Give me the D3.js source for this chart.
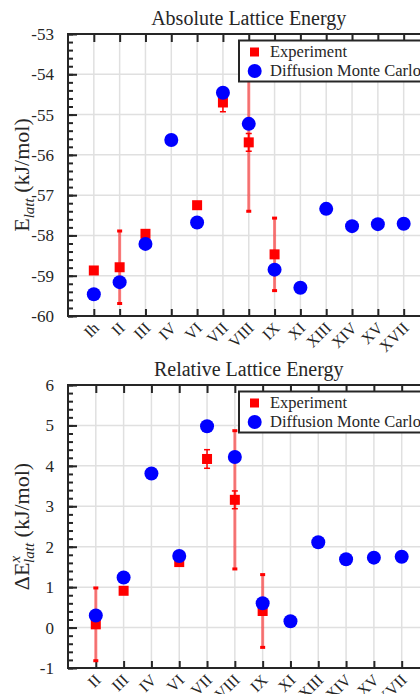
<!DOCTYPE html>
<html>
<head>
<meta charset="utf-8">
<script src="https://cdn.jsdelivr.net/npm/d3@7"></script>
<style>
  html, body { margin: 0; padding: 0; background: #fff; }
  svg { display: block; }
  text { font-family: "Liberation Serif", "Times New Roman", serif; fill: #262626; }
</style>
</head>
<body>
<svg id="chart" width="420" height="694"></svg>
<script>
// ---------- data ----------
const absCats = ["Ih","II","III","IV","VI","VII","VIII","IX","XI","XIII","XIV","XV","XVII"];
const absDmc  = [-59.46,-59.16,-58.21,-55.63,-57.68,-54.46,-55.23,-58.85,-59.30,-57.34,-57.77,-57.72,-57.71];
const absExpCats = ["Ih","II","III","VI","VII","VIII","IX"];
const absExp     = [-58.87,-58.79,-57.96,-57.25,-54.70,-55.69,-58.47];
const absWideErrCats = ["II","VIII","IX"];
const absWideErr     = [0.90,1.71,0.90];
const absSmallErrCats = ["VII","VIII"];
const absSmallErr     = [0.23,0.22];
const absYTicks = [-60,-59,-58,-57,-56,-55,-54,-53];

const relCats = ["II","III","IV","VI","VII","VIII","IX","XI","XIII","XIV","XV","XVII"];
const relDmc  = [0.30,1.24,3.81,1.77,4.98,4.22,0.60,0.155,2.11,1.69,1.73,1.75];
const relExpCats = ["II","III","VI","VII","VIII","IX"];
const relExp     = [0.08,0.91,1.62,4.17,3.16,0.41];
const relWideErrCats = ["II","VIII","IX"];
const relWideErr     = [0.90,1.71,0.90];
const relSmallErrCats = ["VII","VIII"];
const relSmallErr     = [0.23,0.22];
const relYTicks = [-1,0,1,2,3,4,5,6];

const legendLabels = ["Experiment","Diffusion Monte Carlo"];

// ---------- drawing ----------
const svg = d3.select("#chart");
const AX = "#262626", GRID = "#e0e0e0", RED = "#ff0000", BLUE = "#0000ff";

function panel(cfg) {
  const g = svg.append("g");
  const x = d3.scaleLinear().domain([0, cfg.cats.length + 1]).range([68, 429.5]);
  const y = d3.scaleLinear().domain(cfg.yDomain).range([cfg.bottom, cfg.top]);
  const xc = c => x(cfg.cats.indexOf(c) + 1);
  const left = x.range()[0], right = x.range()[1];

  // grid
  g.append("g").selectAll("line").data(cfg.cats).join("line")
    .attr("x1", c => xc(c)).attr("x2", c => xc(c))
    .attr("y1", cfg.top).attr("y2", cfg.bottom)
    .attr("stroke", GRID).attr("stroke-width", 1.5);
  g.append("g").selectAll("line").data(cfg.yTicks).join("line")
    .attr("x1", left).attr("x2", right)
    .attr("y1", d => y(d)).attr("y2", d => y(d))
    .attr("stroke", GRID).attr("stroke-width", 1.5);

  // axes with inward ticks
  const yMinor = d3.range(cfg.yDomain[0], cfg.yDomain[1] + 1e-9, 0.2).map(v => +v.toFixed(2));
  const yAxis = d3.axisLeft(y).tickValues(cfg.yTicks).tickSize(-9).tickPadding(14).tickFormat(d3.format("d"));
  const yAx = g.append("g").attr("transform", `translate(${left},0)`).call(yAxis);
  yAx.select(".domain").remove();
  yAx.selectAll("line").attr("stroke", AX).attr("stroke-width", 2);
  yAx.selectAll("text").attr("font-size", 17).attr("fill", AX)
     .text(d => (d < 0 ? "-" + Math.abs(d) : d));
  const yMin = d3.axisLeft(y).tickValues(yMinor).tickSize(-5).tickFormat("");
  const yMinAx = g.append("g").attr("transform", `translate(${left},0)`).call(yMin);
  yMinAx.select(".domain").remove();
  yMinAx.selectAll("line").attr("stroke", AX).attr("stroke-width", 2);

  const tickVals = cfg.cats.map((c, i) => i + 1);
  const xAx = g.append("g").attr("transform", `translate(0,${cfg.bottom})`)
    .call(d3.axisBottom(x).tickValues(tickVals).tickSize(-7).tickFormat(""));
  xAx.select(".domain").remove();
  xAx.selectAll("line").attr("stroke", AX).attr("stroke-width", 2);
  const xTop = g.append("g").attr("transform", `translate(0,${cfg.top})`)
    .call(d3.axisTop(x).tickValues(tickVals).tickSize(-8).tickFormat(""));
  xTop.select(".domain").remove();
  xTop.selectAll("line").attr("stroke", AX).attr("stroke-width", 2);

  // rotated category labels
  g.append("g").selectAll("text").data(cfg.cats).join("text")
    .attr("transform", c => `translate(${xc(c) + 6},${cfg.bottom + 13}) rotate(-45)`)
    .attr("text-anchor", "end").attr("font-size", 16).attr("fill", AX)
    .text(c => c);

  // box
  g.append("rect").attr("x", left).attr("y", cfg.top)
    .attr("width", right - left).attr("height", cfg.bottom - cfg.top)
    .attr("fill", "none").attr("stroke", AX).attr("stroke-width", 2);

  // wide (light) error bars
  const wide = cfg.wideCats.map((c, i) => ({ c, v: cfg.expVals[cfg.expCats.indexOf(c)], e: cfg.wideErr[i] }));
  const wg = g.append("g");
  wg.selectAll("line").data(wide).join("line")
    .attr("x1", d => xc(d.c)).attr("x2", d => xc(d.c))
    .attr("y1", d => y(d.v - d.e)).attr("y2", d => y(d.v + d.e))
    .attr("stroke", RED).attr("stroke-opacity", 0.5).attr("stroke-width", 3);
  wide.forEach(d => {
    [d.v - d.e, d.v + d.e].forEach(v => {
      wg.append("rect").attr("x", xc(d.c) - 2.5).attr("y", y(v) - 1.5)
        .attr("width", 5).attr("height", 3).attr("fill", RED);
    });
  });

  // small error bars
  const small = cfg.smallCats.map((c, i) => ({ c, v: cfg.expVals[cfg.expCats.indexOf(c)], e: cfg.smallErr[i] }));
  const sg = g.append("g");
  small.forEach(d => {
    const cx = xc(d.c);
    sg.append("line").attr("x1", cx).attr("x2", cx).attr("y1", y(d.v - d.e)).attr("y2", y(d.v + d.e))
      .attr("stroke", RED).attr("stroke-width", 1.5);
    [d.v - d.e, d.v + d.e].forEach(v => {
      sg.append("line").attr("x1", cx - 3).attr("x2", cx + 3).attr("y1", y(v)).attr("y2", y(v))
        .attr("stroke", RED).attr("stroke-width", 1.5);
    });
  });

  // experiment squares
  g.append("g").selectAll("rect").data(cfg.expCats).join("rect")
    .attr("x", (c) => xc(c) - 5)
    .attr("y", (c, i) => y(cfg.expVals[i]) - 5)
    .attr("width", 10).attr("height", 10).attr("fill", RED);

  // DMC circles
  g.append("g").selectAll("circle").data(cfg.cats).join("circle")
    .attr("cx", c => xc(c)).attr("cy", (c, i) => y(cfg.dmc[i]))
    .attr("r", 7).attr("fill", BLUE);

  // legend
  const lg = g.append("g").attr("transform", `translate(239,${cfg.top + 6.5})`);
  lg.append("rect").attr("x", 0).attr("y", 0).attr("width", 220).attr("height", 41)
    .attr("fill", "#fff").attr("stroke", AX).attr("stroke-width", 2);
  lg.append("rect").attr("x", 11).attr("y", 7).attr("width", 9).attr("height", 9).attr("fill", RED);
  lg.append("circle").attr("cx", 15.7).attr("cy", 30.5).attr("r", 7).attr("fill", BLUE);
  lg.append("text").attr("x", 31).attr("y", 16.5).attr("font-size", 16.5).text(legendLabels[0]);
  lg.append("text").attr("x", 31).attr("y", 35.5).attr("font-size", 16.5).text(legendLabels[1]);

  // title
  g.append("text").attr("x", (left + right) / 2).attr("y", cfg.top - 9)
    .attr("text-anchor", "middle").attr("font-size", 20).text(cfg.title);

  // y label
  const yl = g.append("text")
    .attr("transform", `translate(29,${(cfg.top + cfg.bottom) / 2}) rotate(-90)`)
    .attr("text-anchor", "middle").attr("font-size", 22);
  cfg.ylabel(yl);
}

panel({
  cats: absCats, dmc: absDmc, expCats: absExpCats, expVals: absExp,
  wideCats: absWideErrCats, wideErr: absWideErr, smallCats: absSmallErrCats, smallErr: absSmallErr,
  yDomain: [-60, -53], yTicks: absYTicks, top: 34, bottom: 316,
  title: "Absolute Lattice Energy",
  ylabel: t => {
    t.append("tspan").text("E");
    t.append("tspan").attr("font-style", "italic").attr("font-size", 15).attr("dy", 5).text("latt");
    t.append("tspan").attr("dy", -5).text(" (kJ/mol)");
  }
});

panel({
  cats: relCats, dmc: relDmc, expCats: relExpCats, expVals: relExp,
  wideCats: relWideErrCats, wideErr: relWideErr, smallCats: relSmallErrCats, smallErr: relSmallErr,
  yDomain: [-1, 6], yTicks: relYTicks, top: 385, bottom: 668,
  title: "Relative Lattice Energy",
  ylabel: t => {
    t.append("tspan").text("ΔE");
    t.append("tspan").attr("font-style", "italic").attr("font-size", 15).attr("dy", -9).text("x");
    t.append("tspan").attr("font-style", "italic").attr("font-size", 15).attr("dx", -7).attr("dy", 14).text("latt");
    t.append("tspan").attr("dy", -5).text(" (kJ/mol)");
  }
});
</script>
</body>
</html>
